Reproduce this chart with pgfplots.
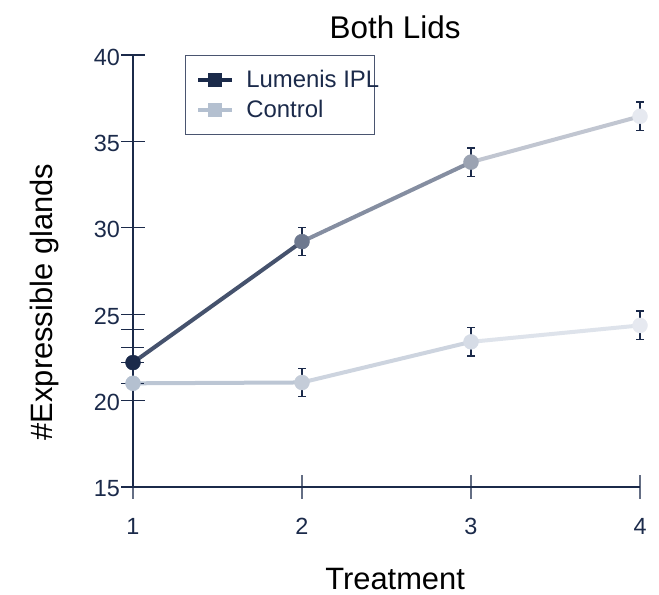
\documentclass[border=0pt]{standalone}
\usepackage{fontspec}
\setmainfont{Liberation Sans}
\usepackage{pgfplots}
\pgfplotsset{compat=1.18}
\definecolor{navy}{RGB}{27,42,74}
\definecolor{lumA}{RGB}{27,42,74}
\definecolor{ctlA}{RGB}{180,192,208}
\definecolor{legframe}{RGB}{74,85,112}
\definecolor{xtickc}{RGB}{100,110,132}
\pgfplotsset{
  colormap={lumcm}{rgb255=(27,42,74) rgb255=(110,121,143) rgb255=(155,163,178) rgb255=(230,233,240)},
  colormap={ctlcm}{rgb255=(180,192,208) rgb255=(196,204,216) rgb255=(214,220,230) rgb255=(230,233,240)},
}
\pgfplotstableread{
x y m
1 22.2 0
2 29.2 1
3 33.8 2
4 36.45 3
}\lumtable
\pgfplotstableread{
x y m
1 21.0 0
2 21.05 1
3 23.4 2
4 24.35 3
}\ctltable
\begin{document}
\begin{tikzpicture}[x=1bp,y=1bp]
\useasboundingbox (-133,-108) rectangle (526,487);
\begin{axis}[
  at={(0,0)}, anchor=south west,
  scale only axis, width=507bp, height=432bp,
  xmin=1, xmax=4, ymin=15, ymax=40,
  xtick={1,2,3,4}, ytick={15,20,...,40},
  axis x line*=bottom, axis y line*=left,
  axis line style={navy, line width=2.2bp},
  tick align=center, major tick length=23bp,
  y tick style={navy, line width=1.3bp},
  x tick style={xtickc, line width=1.3bp},
  clip=false,
  /pgf/number format/assume math mode=true,
  tick label style={font=\fontsize{23.5}{27}\selectfont, text=navy},
  xticklabel style={anchor=center, yshift=-28bp},
  yticklabel style={anchor=east, xshift=2bp, yshift=-2bp},
  title={Both Lids},
  title style={font=\fontsize{31.5}{36}\selectfont, at={(axis description cs:0.517,1)}, anchor=center, yshift=22bp},
  xlabel={Treatment},
  every axis x label/.style={at={(axis description cs:0.517,0)}, anchor=center, yshift=-92bp, font=\fontsize{31}{35}\selectfont},
  ylabel={\#Expressible glands},
  every axis y label/.style={at={([xshift=-88bp]axis description cs:0,0.428)}, rotate=90, anchor=center, font=\fontsize{31}{35}\selectfont},
  legend style={at={(axis description cs:0.103,1.0)}, anchor=north west, draw=legframe, line width=1.2bp, font=\fontsize{24}{27}\selectfont, text=navy, row sep=7bp, inner xsep=10bp, inner ysep=13bp},
  legend cell align=left,
  legend image code/.code={\draw[#1, mark repeat=2, mark phase=2] plot coordinates {(0bp,0bp) (17bp,0bp) (34bp,0bp)};},
]
% legend
\addlegendimage{color=lumA, line width=4.5bp, mark=square*, mark size=6.5bp, mark options={solid, fill=lumA, draw=lumA, line width=0.5bp}}
\addlegendentry{\makebox[126bp][l]{\hspace*{10bp}Lumenis IPL}}
\addlegendimage{color=ctlA, line width=4.5bp, mark=square*, mark size=6.5bp, mark options={solid, fill=ctlA, draw=ctlA, line width=0.5bp}}
\addlegendentry{\makebox[126bp][l]{\hspace*{10bp}Control}}
% lines
\addplot[forget plot, mesh, colormap name=ctlcm, shader=flat mean, point meta=explicit, point meta min=0, point meta max=3, line width=4bp] table[x=x, y=y, meta=m] {\ctltable};
\addplot[forget plot, mesh, colormap name=lumcm, shader=flat mean, point meta=explicit, point meta min=0, point meta max=3, line width=4bp] table[x=x, y=y, meta=m] {\lumtable};
% error bars
\addplot[forget plot, only marks, mark=none, error bars/.cd, y dir=both, y explicit, error bar style={navy, line width=1.4bp}, error mark options={rotate=90, navy, mark size=4bp, line width=1.4bp}]
coordinates {
(2,29.2) +- (0,0.8)
(3,33.8) +- (0,0.82)
(4,36.45) +- (0,0.83)
(2,21.05) +- (0,0.82)
(3,23.4) +- (0,0.82)
(4,24.35) +- (0,0.83)
};
\addplot[forget plot, only marks, mark=none, error bars/.cd, y dir=both, y explicit, error bar style={navy, line width=1.4bp}, error mark options={rotate=90, navy, mark size=11.5bp, line width=1.3bp}]
coordinates {
(1,22.2) += (0,1.9) -= (0,0)
(1,21.0) += (0,2.06) -= (0,0)
};
% markers
\addplot[forget plot, scatter, only marks, mark=*, mark size=7.5bp, colormap name=ctlcm, point meta=explicit, point meta min=0, point meta max=3, scatter/use mapped color={draw=mapped color, fill=mapped color}] table[x=x, y=y, meta=m] {\ctltable};
\addplot[forget plot, scatter, only marks, mark=*, mark size=7.5bp, colormap name=lumcm, point meta=explicit, point meta min=0, point meta max=3, scatter/use mapped color={draw=mapped color, fill=mapped color}] table[x=x, y=y, meta=m] {\lumtable};
\end{axis}
\end{tikzpicture}
\end{document}
